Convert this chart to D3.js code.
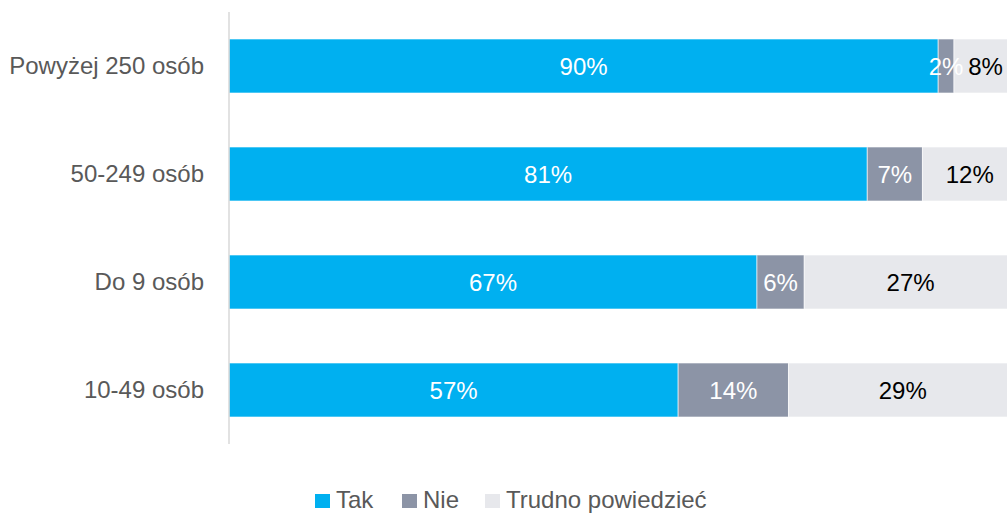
<!DOCTYPE html>
<html>
<head>
<meta charset="utf-8">
<script src="https://cdn.jsdelivr.net/npm/d3@7"></script>
<style>
  html, body { margin: 0; padding: 0; background: #fff; }
  svg { display: block; font-family: "Liberation Sans", Arial, sans-serif; }
</style>
</head>
<body>
<svg id="chart" width="1007" height="514"></svg>
<script>
const categories = ["Powyżej 250 osób", "50-249 osób", "Do 9 osób", "10-49 osób"];
const seriesNames = ["Tak", "Nie", "Trudno powiedzieć"];
const tak = [90, 81, 67, 57];
const nie = [2, 7, 6, 14];
const trudno = [8, 12, 27, 29];
const colors = ["#00B0F0", "#8C94A6", "#E7E8EC"];
const labelColors = ["#ffffff", "#ffffff", "#000000"];

const rows = categories.map((c, i) => ({ cat: c, Tak: tak[i], Nie: nie[i], "Trudno powiedzieć": trudno[i] }));
const stacked = d3.stack().keys(seriesNames)(rows);

const svg = d3.select("#chart");
const x = d3.scaleLinear().domain([0, 100]).range([229, 1017]);
const y = d3.scaleBand().domain(categories).range([12, 444]).paddingInner(0.5).paddingOuter(0.25);
const fontSize = 24;

// segments
const layers = svg.append("g").selectAll("g").data(stacked).join("g")
  .attr("fill", (d, i) => colors[i]);
layers.selectAll("rect").data(d => d).join("rect")
  .attr("x", d => x(d[0]))
  .attr("y", d => y(d.data.cat))
  .attr("width", d => x(d[1]) - x(d[0]))
  .attr("height", y.bandwidth())
  .attr("stroke", "#ffffff")
  .attr("stroke-opacity", 0.6)
  .attr("stroke-width", 1);

// value labels
stacked.forEach((layer, li) => {
  svg.append("g").selectAll("text").data(layer).join("text")
    .attr("x", d => (x(d[0]) + x(d[1])) / 2)
    .attr("y", d => y(d.data.cat) + y.bandwidth() / 2)
    .attr("dy", "0.36em")
    .attr("text-anchor", "middle")
    .attr("font-size", fontSize)
    .attr("fill", labelColors[li])
    .text(d => (d[1] - d[0]) + "%");
});

// category axis
const yAxis = svg.append("g").attr("transform", "translate(229,0)")
  .call(d3.axisLeft(y).tickSize(0).tickPadding(25));
yAxis.select(".domain").attr("stroke", "#D9D9D9").attr("stroke-width", 1.5)
  .attr("d", "M0,12V444");
yAxis.selectAll("text").attr("font-size", fontSize).attr("fill", "#595959")
  .attr("font-family", "Liberation Sans, Arial, sans-serif");

// legend
const legendPos = [315, 402, 485];
const legend = svg.append("g").selectAll("g").data(seriesNames).join("g")
  .attr("transform", (d, i) => `translate(${legendPos[i]},494)`);
legend.append("rect").attr("width", 15).attr("height", 14)
  .attr("fill", (d, i) => colors[i]);
legend.append("text").attr("x", 21).attr("y", 14)
  .attr("font-size", fontSize).attr("fill", "#595959").text(d => d);
</script>
</body>
</html>
